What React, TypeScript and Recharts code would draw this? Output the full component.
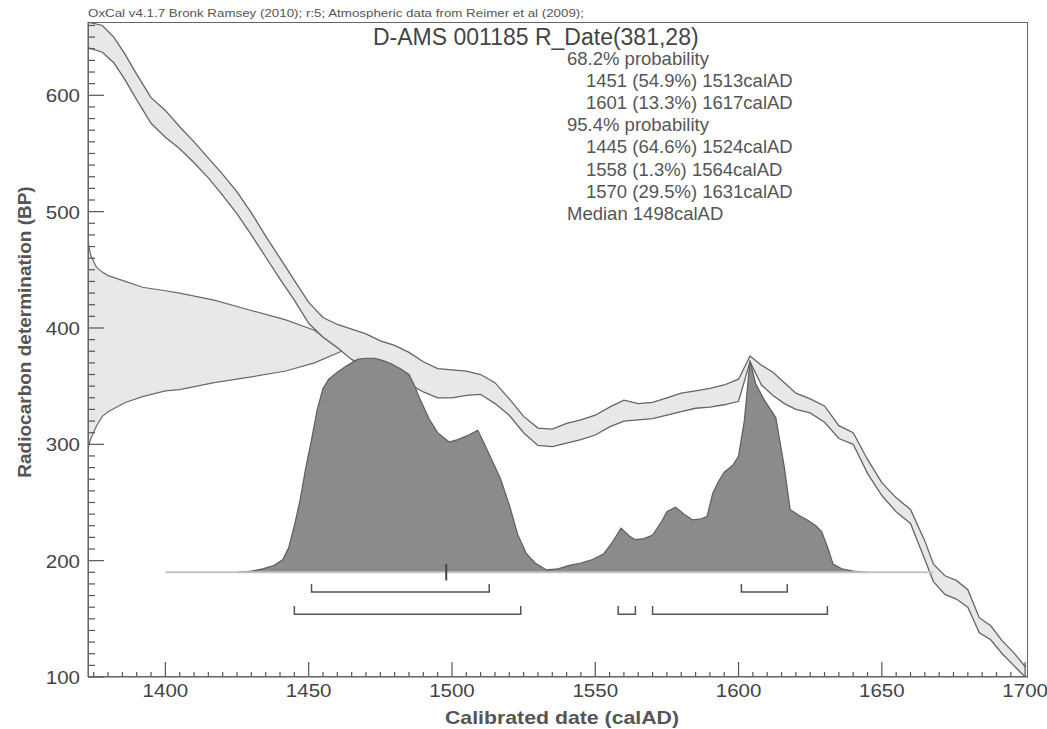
import React from 'react';
import { ComposedChart, Area, Line, XAxis, YAxis } from 'recharts';

// calibration curve (IntCal09 band)
const calYears = [1373, 1378, 1382, 1386, 1390, 1395, 1400, 1405, 1410, 1415, 1420, 1425, 1430, 1435, 1440, 1445, 1450, 1455, 1460, 1465, 1470, 1475, 1480, 1485, 1490, 1495, 1500, 1505, 1510, 1515, 1520, 1525, 1530, 1535, 1540, 1545, 1550, 1555, 1560, 1565, 1570, 1575, 1580, 1585, 1590, 1595, 1600, 1604, 1608, 1612, 1616, 1620, 1625, 1630, 1635, 1640, 1645, 1650, 1655, 1660, 1665, 1668, 1672, 1676, 1680, 1684, 1688, 1692, 1696, 1700];
const calLower = [641, 637, 628, 613, 596, 576, 564, 554, 542, 529, 514, 498, 480, 461, 442, 424, 404, 392, 383, 373, 366, 361, 359, 352, 345, 340, 340, 342, 343, 335, 325, 310, 299, 298, 301, 304, 308, 315, 320, 321, 322, 325, 328, 331, 332, 334, 337, 371, 351, 342, 335, 330, 327, 319, 305, 300, 275, 256, 242, 232, 201, 182, 171, 167, 160, 138, 132, 120, 110, 100];
const calUpper = [663, 660, 650, 635, 618, 598, 587, 573, 560, 546, 532, 517, 499, 479, 460, 441, 422, 409, 403, 399, 395, 389, 385, 379, 371, 365, 364, 363, 360, 353, 339, 324, 314, 313, 318, 321, 325, 332, 338, 335, 336, 340, 344, 346, 348, 351, 356, 376, 368, 362, 353, 344, 339, 333, 316, 310, 287, 267, 254, 244, 217, 197, 187, 183, 175, 151, 144, 131, 121, 109];

// measured date R_Date(381,28), drawn sideways on the BP axis
const measYears = [1373, 1374, 1376, 1378, 1380, 1386, 1392, 1400, 1405, 1417, 1430, 1442, 1452, 1461.5];
const measLow = [297, 305, 316, 324, 328, 336, 341, 346, 347, 353, 358, 363, 370, 380];
const measHigh = [474, 462, 452, 448, 445, 440, 435, 432, 430, 424, 415, 407, 398, 381];

// calibrated distribution (top edge, in BP units above its baseline)
const postBase = 190;
const postYears = [1425, 1430, 1434, 1438, 1441, 1443, 1445, 1447, 1449, 1451, 1453, 1455, 1457, 1460, 1463, 1467, 1470, 1473, 1476, 1479, 1482, 1485, 1487, 1489, 1492, 1495, 1499, 1502, 1505, 1509, 1511, 1514, 1517, 1520, 1523, 1526, 1529, 1533, 1537, 1541, 1545, 1549, 1553, 1556, 1559, 1562, 1564, 1567, 1570, 1573, 1575, 1578, 1581, 1584, 1587, 1589, 1591, 1593, 1595, 1598, 1600, 1602, 1604, 1606, 1609, 1613, 1616, 1618, 1621, 1624, 1627, 1629, 1631, 1633, 1636, 1640, 1645];
const postValues = [190, 191, 193, 196, 201, 211, 230, 252, 280, 304, 330, 348, 356, 362, 367, 373, 374, 374, 372, 369, 365, 360, 350, 338, 322, 310, 302, 304, 307, 312, 302, 286, 270, 248, 222, 206, 198, 192, 193, 196, 198, 201, 206, 216, 228, 221, 218, 219, 222, 233, 242, 246, 240, 235, 236, 238, 258, 268, 276, 282, 290, 320, 372, 352, 338, 323, 280, 244, 239, 235, 230, 225, 212, 197, 193, 191, 190];
const postSpan = [1400, 1668];

const range68 = [[1451, 1513], [1601, 1617]];
const range95 = [[1445, 1524], [1558, 1564], [1570, 1631]];
const medianYear = 1498;
const bar68 = 173;
const bar95 = 154;

const xTicks: number[] = [];
for (let v = 1375; v <= 1700; v += 5) xTicks.push(v);
const yTicks: number[] = [];
for (let v = 100; v <= 660; v += 10) yTicks.push(v);

const infoLines = [
  { text: '68.2% probability', indent: 0 },
  { text: '1451 (54.9%) 1513calAD', indent: 1 },
  { text: '1601 (13.3%) 1617calAD', indent: 1 },
  { text: '95.4% probability', indent: 0 },
  { text: '1445 (64.6%) 1524calAD', indent: 1 },
  { text: '1558 (1.3%) 1564calAD', indent: 1 },
  { text: '1570 (29.5%) 1631calAD', indent: 1 },
  { text: 'Median 1498calAD', indent: 0 },
];

const FONT = '"Liberation Sans", Arial, Helvetica, sans-serif';

const calData = calYears.map((x, i) => ({ x, band: [calLower[i], calUpper[i]] }));
const measData = measYears.map((x, i) => ({ x, band: [measLow[i], measHigh[i]] }));
const postData = postYears.map((x, i) => ({ x, band: [postBase, postValues[i]] }));
const baseData = postSpan.map((x) => ({ x, y: postBase }));

const bracketData = (ranges: number[][], level: number) => {
  const out: { x: number; y: number | null }[] = [];
  ranges.forEach(([a, b]) => {
    out.push({ x: a, y: level + 7 }, { x: a, y: level }, { x: b, y: level }, { x: b, y: level + 7 }, { x: b, y: null });
  });
  return out;
};
const medianData = [
  { x: medianYear, y: postBase - 7 },
  { x: medianYear, y: postBase + 7 },
];

const XTick = (props: any) => {
  const { x, y, payload } = props;
  const v = payload.value;
  const major = v % 50 === 0;
  return (
    <g>
      <line x1={x} y1={y} x2={x} y2={y - (major ? 15 : 5)} stroke="#555" strokeWidth={1.2} />
      {major && (
        <text transform={`translate(${x},${y + 20}) scale(1.08,1)`} textAnchor="middle" fontSize={19} fill="#444" fontFamily={FONT}>
          {v}
        </text>
      )}
    </g>
  );
};

const YTick = (props: any) => {
  const { x, y, payload } = props;
  const v = payload.value;
  const major = v % 100 === 0;
  return (
    <g>
      <line x1={x} y1={y} x2={x + (major ? 16 : 7)} y2={y} stroke="#555" strokeWidth={1.2} />
      {major && (
        <text transform={`translate(${x - 8},${y + 7}) scale(1.08,1)`} textAnchor="end" fontSize={19} fill="#444" fontFamily={FONT}>
          {v}
        </text>
      )}
    </g>
  );
};

export default function App() {
  return (
    <div style={{ position: 'absolute', left: 0, top: 0, width: 1047, height: 729, background: '#fff', fontFamily: FONT }}>
      <ComposedChart width={1047} height={729} margin={{ top: 22, right: 19, bottom: 22, left: 28 }}>
        <XAxis
          dataKey="x"
          type="number"
          domain={[1373, 1701]}
          allowDataOverflow
          ticks={xTicks}
          interval={0}
          tickSize={0}
          tickMargin={0}
          height={30}
          stroke="#555"
          tick={(p: any) => <XTick {...p} />}
        />
        <YAxis
          type="number"
          domain={[100, 663]}
          allowDataOverflow
          ticks={yTicks}
          interval={0}
          tickSize={0}
          tickMargin={0}
          width={60}
          stroke="#555"
          tick={(p: any) => <YTick {...p} />}
        />
        <Line data={baseData} dataKey="y" type="linear" stroke="#c4c4c4" strokeWidth={2} dot={false} isAnimationActive={false} />
        <Area data={measData} dataKey="band" type="linear" fill="#e4e4e4" fillOpacity={0.85} stroke="#6a6a6a" strokeWidth={1.2} isAnimationActive={false} />
        <Area data={calData} dataKey="band" type="linear" fill="#e4e4e4" fillOpacity={0.85} stroke="#656565" strokeWidth={1.3} isAnimationActive={false} />
        <Area data={postData} dataKey="band" type="linear" fill="#8b8b8b" fillOpacity={1} stroke="#5e5e5e" strokeWidth={1.2} isAnimationActive={false} />
        <Line data={bracketData(range68, bar68)} dataKey="y" type="linear" stroke="#555" strokeWidth={1.5} dot={false} isAnimationActive={false} />
        <Line data={bracketData(range95, bar95)} dataKey="y" type="linear" stroke="#555" strokeWidth={1.5} dot={false} isAnimationActive={false} />
        <Line data={medianData} dataKey="y" type="linear" stroke="#444" strokeWidth={2} dot={false} isAnimationActive={false} />
      </ComposedChart>

      <div style={{ position: 'absolute', left: 88, top: 22, width: 940, height: 655, border: '1px solid #666', boxSizing: 'border-box', pointerEvents: 'none' }} />

      <div style={{ position: 'absolute', left: 88, top: 8, fontSize: 11.5, lineHeight: '11.5px', color: '#555', whiteSpace: 'nowrap', transform: 'scaleX(1.16)', transformOrigin: 'left center' }}>
        OxCal v4.1.7 Bronk Ramsey (2010); r:5; Atmospheric data from Reimer et al (2009);
      </div>
      <div style={{ position: 'absolute', left: 373, top: 26, fontSize: 23, lineHeight: '23px', color: '#444', whiteSpace: 'nowrap' }}>
        D-AMS 001185 R_Date(381,28)
      </div>
      {infoLines.map((l, i) => (
        <div
          key={i}
          style={{ position: 'absolute', left: 567 + l.indent * 19, top: 50 + i * 22.1, fontSize: 18.5, lineHeight: '18.5px', color: '#555', whiteSpace: 'nowrap' }}
        >
          {l.text}
        </div>
      ))}
      <div style={{ position: 'absolute', left: 562, top: 717, transform: 'translate(-50%, -50%) scaleX(1.12)', fontSize: 19, lineHeight: '19px', fontWeight: 'bold', color: '#555', whiteSpace: 'nowrap' }}>
        Calibrated date (calAD)
      </div>
      <div style={{ position: 'absolute', left: 24, top: 332, transform: 'translate(-50%, -50%) rotate(-90deg)', fontSize: 19, lineHeight: '19px', fontWeight: 'bold', color: '#555', whiteSpace: 'nowrap' }}>
        Radiocarbon determination (BP)
      </div>
    </div>
  );
}
